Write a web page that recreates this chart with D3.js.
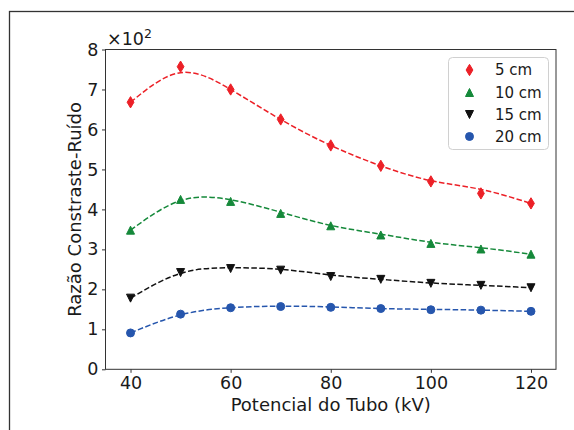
<!DOCTYPE html>
<html>
<head>
<meta charset="utf-8">
<script src="https://cdn.jsdelivr.net/npm/d3@7"></script>
<style>
  html, body { margin: 0; padding: 0; background: #fff; }
  svg { display: block; font-family: "DejaVu Sans", sans-serif; }
</style>
</head>
<body>
<svg id="chart" width="574" height="430"></svg>
<script>
// Tube potential (kV)
const potentials = [40, 50, 60, 70, 80, 90, 100, 110, 120];

// Measured contrast-to-noise ratio (×10²) per phantom thickness
const cnr5cm  = [6.68, 7.57, 7.00, 6.25, 5.60, 5.09, 4.70, 4.40, 4.15];
const cnr10cm = [3.48, 4.25, 4.20, 3.90, 3.59, 3.36, 3.15, 3.01, 2.88];
const cnr15cm = [1.78, 2.42, 2.52, 2.48, 2.32, 2.25, 2.15, 2.10, 2.04];
const cnr20cm = [0.91, 1.38, 1.54, 1.57, 1.55, 1.52, 1.49, 1.48, 1.45];

// Fitted trend values at the same potentials (dashed curves)
const fit5cm  = [6.68, 7.42, 7.00, 6.25, 5.60, 5.09, 4.72, 4.50, 4.15];
const fit10cm = [3.48, 4.22, 4.24, 3.93, 3.60, 3.38, 3.18, 3.04, 2.88];
const fit15cm = [1.78, 2.40, 2.54, 2.50, 2.36, 2.25, 2.16, 2.10, 2.04];
const fit20cm = [0.91, 1.36, 1.54, 1.58, 1.56, 1.52, 1.50, 1.48, 1.45];

const seriesLabels = ["5 cm", "10 cm", "15 cm", "20 cm"];
const xTicks = [40, 60, 80, 100, 120];
const yTicks = [0, 1, 2, 3, 4, 5, 6, 7, 8];

const series = [
  { label: seriesLabels[0], values: cnr5cm,  fit: fit5cm,  color: "#ec2027", marker: "thinDiamond" },
  { label: seriesLabels[1], values: cnr10cm, fit: fit10cm, color: "#15893a", marker: "triangleUp" },
  { label: seriesLabels[2], values: cnr15cm, fit: fit15cm, color: "#111111", marker: "triangleDown" },
  { label: seriesLabels[3], values: cnr20cm, fit: fit20cm, color: "#2656ad", marker: "circle" }
];

const svg = d3.select("#chart");
const W = 574, H = 430;
const plot = { left: 105.5, right: 556, top: 49.5, bottom: 369.3 };

// Outer figure frame
svg.append("rect")
  .attr("x", 9.5).attr("y", 11.5)
  .attr("width", W + 20).attr("height", H + 20)
  .attr("fill", "none").attr("stroke", "#333").attr("stroke-width", 1.3);

const x = d3.scaleLinear().domain([35, 125]).range([plot.left, plot.right]);
const y = d3.scaleLinear().domain([0, 8]).range([plot.bottom, plot.top]);

const tickFont = 17.5;

// Axes
const xAxis = svg.append("g")
  .attr("transform", `translate(0,${plot.bottom})`)
  .call(d3.axisBottom(x).tickValues(xTicks).tickSize(3.5).tickPadding(3.5).tickFormat(d3.format("d")));
const yAxis = svg.append("g")
  .attr("transform", `translate(${plot.left},0)`)
  .call(d3.axisLeft(y).tickValues(yTicks).tickSize(3.5).tickPadding(3.5).tickFormat(d3.format("d")));

[xAxis, yAxis].forEach(g => {
  g.select(".domain").remove();
  g.selectAll(".tick line").attr("stroke", "#333").attr("stroke-width", 1);
  g.selectAll(".tick text")
    .attr("fill", "#1a1a1a")
    .style("font-size", tickFont + "px")
    .style("font-family", "'DejaVu Sans', sans-serif");
});

// Plot frame (spines)
svg.append("rect")
  .attr("x", plot.left).attr("y", plot.top)
  .attr("width", plot.right - plot.left).attr("height", plot.bottom - plot.top)
  .attr("fill", "none").attr("stroke", "#333").attr("stroke-width", 1);

// Offset text for the scaled y axis
const offset = svg.append("text")
  .attr("x", 107).attr("y", 45.3)
  .attr("fill", "#1a1a1a")
  .style("font-size", tickFont + "px");
offset.append("tspan").text("×10");
offset.append("tspan").attr("dy", -7).style("font-size", "12.5px").text("2");

// Axis titles
svg.append("text")
  .attr("x", (plot.left + plot.right) / 2).attr("y", 405)
  .attr("dy", "0.35em")
  .attr("text-anchor", "middle")
  .attr("fill", "#1a1a1a")
  .style("font-size", "18px")
  .text("Potencial do Tubo (kV)");

svg.append("text")
  .attr("transform", `translate(75,${(plot.top + plot.bottom) / 2}) rotate(-90)`)
  .attr("dy", "0.35em")
  .attr("text-anchor", "middle")
  .attr("fill", "#1a1a1a")
  .style("font-size", "18px")
  .text("Razão Constraste-Ruído");

// Marker shapes
function markerPath(kind) {
  const s = 8; // marker size in px
  if (kind === "thinDiamond") {
    const h = s * Math.SQRT2 / 2, w = 0.6 * h;
    return `M0,${-h}L${w},0L0,${h}L${-w},0Z`;
  }
  if (kind === "triangleUp") {
    const r = s / 2;
    return `M0,${-r}L${r},${r}L${-r},${r}Z`;
  }
  if (kind === "triangleDown") {
    const r = s / 2;
    return `M0,${r}L${r},${-r}L${-r},${-r}Z`;
  }
  const r = s / 2;
  return `M${r},0A${r},${r} 0 1,1 ${-r},0A${r},${r} 0 1,1 ${r},0Z`;
}

const line = d3.line()
  .x((d, i) => x(potentials[i]))
  .y(d => y(d))
  .curve(d3.curveNatural);

const plotArea = svg.append("g");

series.forEach(s => {
  plotArea.append("path")
    .attr("d", line(s.fit))
    .attr("fill", "none")
    .attr("stroke", s.color)
    .attr("stroke-width", 1.5)
    .attr("stroke-dasharray", "5.55,2.4");
});

series.forEach(s => {
  plotArea.selectAll(null)
    .data(s.values)
    .join("path")
    .attr("transform", (d, i) => `translate(${x(potentials[i])},${y(d)})`)
    .attr("d", markerPath(s.marker))
    .attr("fill", s.color)
    .attr("stroke", s.color)
    .attr("stroke-width", 1);
});

// Legend
const legend = svg.append("g");
legend.append("rect")
  .attr("x", 448.5).attr("y", 57.5)
  .attr("width", 100).attr("height", 92)
  .attr("rx", 4).attr("ry", 4)
  .attr("fill", "#fff").attr("fill-opacity", 0.8)
  .attr("stroke", "#d0d0d0").attr("stroke-width", 1);

const rowY = [70, 92.5, 114.5, 136.5];
series.forEach((s, i) => {
  legend.append("path")
    .attr("transform", `translate(469.5,${rowY[i]})`)
    .attr("d", markerPath(s.marker))
    .attr("fill", s.color)
    .attr("stroke", s.color)
    .attr("stroke-width", 1);
  legend.append("text")
    .attr("x", 495).attr("y", rowY[i])
    .attr("dy", "0.36em")
    .attr("fill", "#1a1a1a")
    .style("font-size", "15px")
    .text(s.label);
});
</script>
</body>
</html>
